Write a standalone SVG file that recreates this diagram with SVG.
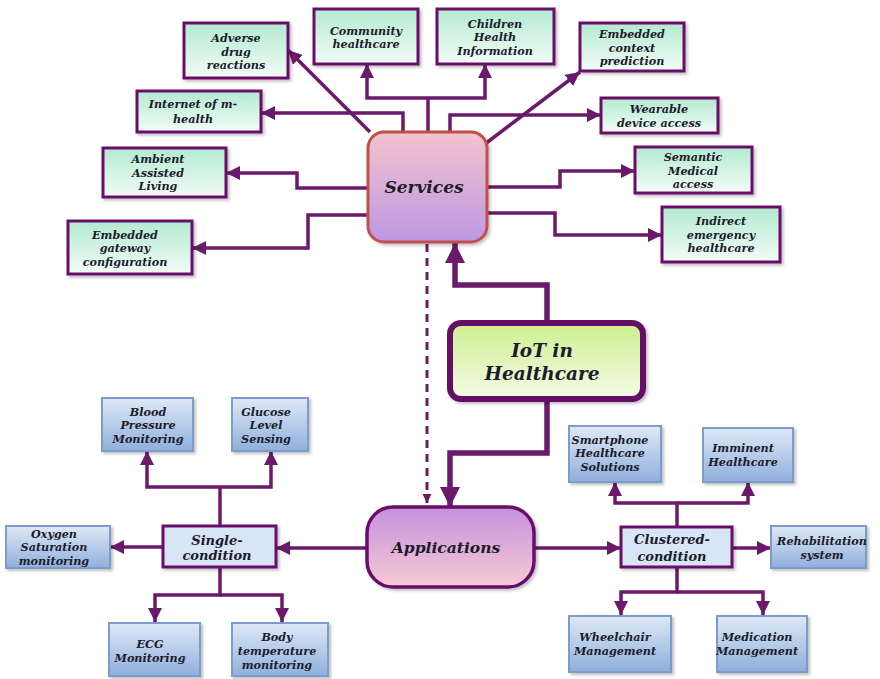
<svg xmlns="http://www.w3.org/2000/svg" width="880" height="679" viewBox="0 0 880 679">
  <defs>
    <linearGradient id="gGreen" x1="0" y1="0" x2="0" y2="1">
      <stop offset="0" stop-color="#b3ead0"/>
      <stop offset="1" stop-color="#f3fcf7"/>
    </linearGradient>
    <linearGradient id="gBlue" x1="0" y1="0" x2="0" y2="1">
      <stop offset="0" stop-color="#dfe9f7"/>
      <stop offset="1" stop-color="#8fafdb"/>
    </linearGradient>
    <linearGradient id="gServ" x1="0" y1="0" x2="0" y2="1">
      <stop offset="0" stop-color="#f4c3cf"/>
      <stop offset="1" stop-color="#bd98e2"/>
    </linearGradient>
    <linearGradient id="gApp" x1="0" y1="0" x2="0" y2="1">
      <stop offset="0" stop-color="#c690df"/>
      <stop offset="1" stop-color="#f7cad3"/>
    </linearGradient>
    <linearGradient id="gIot" x1="0" y1="0" x2="0" y2="1">
      <stop offset="0" stop-color="#cdef90"/>
      <stop offset="1" stop-color="#f7fbe6"/>
    </linearGradient>
    <filter id="shadow" x="-10%" y="-10%" width="125%" height="130%">
      <feDropShadow dx="2" dy="2" stdDeviation="1.5" flood-color="#000" flood-opacity="0.25"/>
    </filter>
    <marker id="ah" markerUnits="userSpaceOnUse" markerWidth="14" markerHeight="14" refX="14" refY="7" orient="auto">
      <path d="M0,0 L14,7 L0,14 Z" fill="#6b1a6b"/>
    </marker>
    <marker id="ahb" markerUnits="userSpaceOnUse" markerWidth="20" markerHeight="20" refX="20" refY="10" orient="auto">
      <path d="M0,0 L20,10 L0,20 Z" fill="#6b1a6b"/>
    </marker>
    <marker id="ahs" markerUnits="userSpaceOnUse" markerWidth="9" markerHeight="9" refX="9" refY="4.5" orient="auto">
      <path d="M0,0 L9,4.5 L0,9 Z" fill="#6b1a6b"/>
    </marker>
  </defs>
  <style>
    .ln { fill: none; stroke: #6b1a6b; stroke-width: 3.5; }
    .ar { marker-end: url(#ah); }
    .big { stroke-width: 5.5; marker-end: url(#ahb); }
    .dash { stroke-width: 3; stroke-dasharray: 8 6; marker-end: url(#ahs); }
    .green { fill: url(#gGreen); stroke: #6a0f6a; stroke-width: 3; filter: url(#shadow); }
    .blue { fill: url(#gBlue); stroke: #7b9dcc; stroke-width: 2; filter: url(#shadow); }
    .cond { fill: #d8e5f6; stroke: #6a0f6a; stroke-width: 3; filter: url(#shadow); }
    text { font-family: "DejaVu Serif", "Liberation Serif", serif; font-style: italic; font-weight: bold; fill: #1c1c2c; text-anchor: middle; }
    .t { font-size: 11.2px; }
    .tc { font-size: 13px; }
  </style>

  <rect width="880" height="679" fill="#ffffff"/>

  <!-- connectors -->
  <g id="connectors">
    <path class="ln ar" d="M370,132 L288,50"/>
    <path class="ln" d="M428,134 V98"/>
    <path class="ln ar" d="M428,98 H367 V64"/>
    <path class="ln ar" d="M428,98 H485 V64"/>
    <path class="ln ar" d="M403,134 V113 H261"/>
    <path class="ln ar" d="M450,134 V115 H601"/>
    <path class="ln ar" d="M485,144 L580,72"/>
    <path class="ln ar" d="M370,188 H297 V173 H226"/>
    <path class="ln ar" d="M370,215 H308 V248 H192"/>
    <path class="ln ar" d="M485,187 H560 V171 H635"/>
    <path class="ln ar" d="M485,213 H555 V235 H662"/>
    <path class="ln dash" d="M427,244 V503"/>
    <path class="ln big" d="M547,323 V285 H455 V243"/>
    <path class="ln big" d="M547,399 V453 H450 V507"/>
    <path class="ln ar" d="M369,548 H276"/>
    <path class="ln ar" d="M532,548 H621"/>
    <path class="ln" d="M220,526 V487"/>
    <path class="ln ar" d="M220,487 H147 V451"/>
    <path class="ln ar" d="M220,487 H271 V451"/>
    <path class="ln ar" d="M163,547 H110"/>
    <path class="ln ar" d="M220,567 V595 H155 V622"/>
    <path class="ln ar" d="M220,595 H282 V622"/>
    <path class="ln ar" d="M677,527 V503 H615 V482"/>
    <path class="ln ar" d="M677,503 H748 V482"/>
    <path class="ln ar" d="M732,548 H771"/>
    <path class="ln ar" d="M677,567 V592 H621 V615"/>
    <path class="ln ar" d="M677,592 H763 V615"/>
  </g>

  <!-- central nodes -->
  <g id="services">
    <rect x="368" y="132" width="119" height="110" rx="16" fill="url(#gServ)" stroke="#c0504d" stroke-width="3" filter="url(#shadow)"/>
    <text x="424" y="193" font-size="17">Services</text>
  </g>
  <g id="iot">
    <rect x="450" y="323" width="193" height="76" rx="11" fill="url(#gIot)" stroke="#660f66" stroke-width="6" filter="url(#shadow)"/>
    <text x="542" y="357" font-size="18.5">IoT in</text>
    <text x="542" y="380" font-size="18.5">Healthcare</text>
  </g>
  <g id="applications">
    <rect x="367" y="507" width="167" height="80" rx="26" fill="url(#gApp)" stroke="#6a0f6a" stroke-width="3.5" filter="url(#shadow)"/>
    <text x="446" y="553" font-size="15.5">Applications</text>
  </g>

  <!-- service nodes -->
  <g id="adverse-drug">
    <rect class="green" x="184" y="23" width="104" height="55"/>
    <text class="t" x="236" y="42">Adverse</text>
    <text class="t" x="236" y="56">drug</text>
    <text class="t" x="236" y="69">reactions</text>
  </g>
  <g id="community">
    <rect class="green" x="314" y="9" width="104" height="55"/>
    <text class="t" x="366" y="35">Community</text>
    <text class="t" x="366" y="48">healthcare</text>
  </g>
  <g id="children-health">
    <rect class="green" x="437" y="9" width="117" height="55"/>
    <text class="t" x="495" y="28">Children</text>
    <text class="t" x="495" y="41">Health</text>
    <text class="t" x="495" y="55">Information</text>
  </g>
  <g id="embedded-context">
    <rect class="green" x="580" y="23" width="104" height="48"/>
    <text class="t" x="632" y="38">Embedded</text>
    <text class="t" x="632" y="52">context</text>
    <text class="t" x="632" y="65">prediction</text>
  </g>
  <g id="wearable">
    <rect class="green" x="601" y="98" width="117" height="35"/>
    <text class="t" x="659" y="113">Wearable</text>
    <text class="t" x="659" y="127">device access</text>
  </g>
  <g id="semantic">
    <rect class="green" x="635" y="147" width="117" height="46"/>
    <text class="t" x="693" y="161">Semantic</text>
    <text class="t" x="693" y="175">Medical</text>
    <text class="t" x="693" y="188">access</text>
  </g>
  <g id="indirect-emergency">
    <rect class="green" x="662" y="207" width="118" height="55"/>
    <text class="t" x="721" y="225">Indirect</text>
    <text class="t" x="721" y="239">emergency</text>
    <text class="t" x="721" y="252">healthcare</text>
  </g>
  <g id="internet-mhealth">
    <rect class="green" x="137" y="91" width="124" height="41"/>
    <text class="t" x="193" y="108">Internet of m-</text>
    <text class="t" x="193" y="123">health</text>
  </g>
  <g id="ambient">
    <rect class="green" x="103" y="148" width="123" height="49"/>
    <text class="t" x="158" y="163">Ambient</text>
    <text class="t" x="158" y="177">Assisted</text>
    <text class="t" x="158" y="190">Living</text>
  </g>
  <g id="embedded-gateway">
    <rect class="green" x="68" y="221" width="124" height="53"/>
    <text class="t" x="125" y="239">Embedded</text>
    <text class="t" x="125" y="252">gateway</text>
    <text class="t" x="125" y="266">configuration</text>
  </g>

  <!-- single-condition branch -->
  <g id="single-condition">
    <rect class="cond" x="163" y="526" width="113" height="41"/>
    <text class="tc" x="217" y="545">Single-</text>
    <text class="tc" x="217" y="560">condition</text>
  </g>
  <g id="blood-pressure">
    <rect class="blue" x="102" y="398" width="91" height="53"/>
    <text class="t" x="148" y="416">Blood</text>
    <text class="t" x="148" y="429">Pressure</text>
    <text class="t" x="148" y="443">Monitoring</text>
  </g>
  <g id="glucose">
    <rect class="blue" x="232" y="398" width="76" height="53"/>
    <text class="t" x="266" y="416">Glucose</text>
    <text class="t" x="266" y="429">Level</text>
    <text class="t" x="266" y="443">Sensing</text>
  </g>
  <g id="oxygen">
    <rect class="blue" x="6" y="526" width="104" height="42"/>
    <text class="t" x="54" y="538">Oxygen</text>
    <text class="t" x="54" y="551">Saturation</text>
    <text class="t" x="54" y="565">monitoring</text>
  </g>
  <g id="ecg">
    <rect class="blue" x="109" y="623" width="91" height="53"/>
    <text class="t" x="150" y="648">ECG</text>
    <text class="t" x="150" y="662">Monitoring</text>
  </g>
  <g id="body-temperature">
    <rect class="blue" x="232" y="623" width="96" height="53"/>
    <text class="t" x="277" y="641">Body</text>
    <text class="t" x="277" y="655">temperature</text>
    <text class="t" x="277" y="669">monitoring</text>
  </g>

  <!-- clustered-condition branch -->
  <g id="clustered-condition">
    <rect class="cond" x="621" y="527" width="111" height="40"/>
    <text class="tc" x="672" y="544">Clustered-</text>
    <text class="tc" x="672" y="561">condition</text>
  </g>
  <g id="smartphone">
    <rect class="blue" x="569" y="426" width="92" height="56"/>
    <text class="t" x="610" y="444">Smartphone</text>
    <text class="t" x="610" y="457">Healthcare</text>
    <text class="t" x="610" y="471">Solutions</text>
  </g>
  <g id="imminent">
    <rect class="blue" x="703" y="428" width="90" height="54"/>
    <text class="t" x="743" y="452">Imminent</text>
    <text class="t" x="743" y="466">Healthcare</text>
  </g>
  <g id="rehabilitation">
    <rect class="blue" x="771" y="526" width="95" height="42"/>
    <text class="t" x="822" y="545">Rehabilitation</text>
    <text class="t" x="822" y="559">system</text>
  </g>
  <g id="wheelchair">
    <rect class="blue" x="569" y="616" width="102" height="56"/>
    <text class="t" x="615" y="641">Wheelchair</text>
    <text class="t" x="615" y="655">Management</text>
  </g>
  <g id="medication">
    <rect class="blue" x="717" y="616" width="90" height="56"/>
    <text class="t" x="757" y="641">Medication</text>
    <text class="t" x="757" y="655">Management</text>
  </g>
</svg>
